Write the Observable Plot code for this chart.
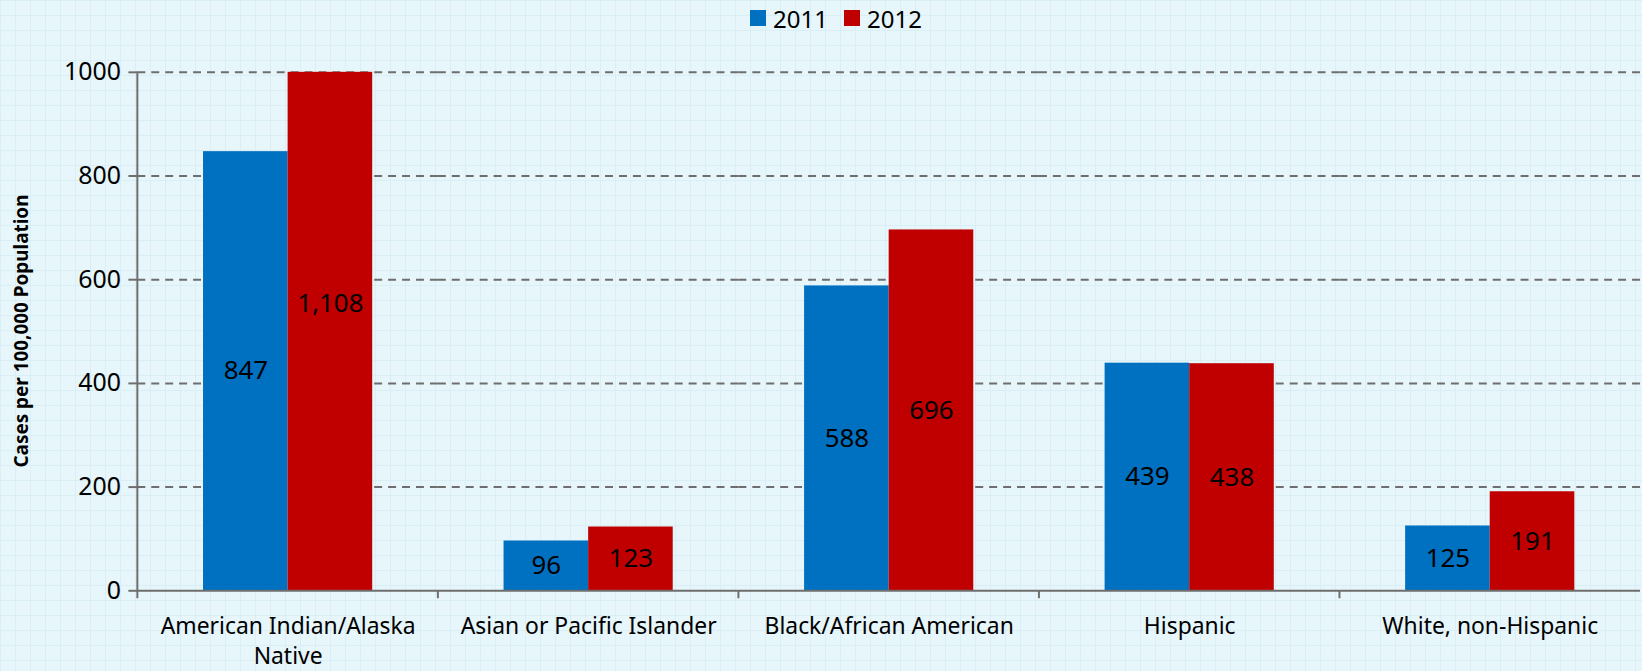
<!DOCTYPE html>
<html>
<head>
<meta charset="utf-8">
<script src="https://cdn.jsdelivr.net/npm/d3@7"></script>
<script src="https://cdn.jsdelivr.net/npm/@observablehq/plot@0.6"></script>
<style>
  html, body { margin: 0; padding: 0; overflow: hidden; width: 1642px; height: 671px; }
  body {
    background-color: #e7f6fa;
    background-image:
      linear-gradient(#d9eff5 1px, transparent 1px),
      linear-gradient(90deg, #d9eff5 1px, transparent 1px);
    background-size: 15px 15px;
    font-family: "Noto Sans", "Open Sans", sans-serif;
  }
  #legend {
    height: 36px; display: flex; justify-content: center; align-items: center;
    padding-left: 30px; box-sizing: border-box; font-size: 24px; color: #000;
  }
  #legend .item { display: flex; align-items: center; margin: 0 8px; }
  #legend .sw { width: 16px; height: 16px; margin-right: 7px; }
  #chart svg { display: block; overflow: visible; }
</style>
</head>
<body>
<div id="legend"></div>
<div id="chart"></div>
<script>
const categories = ["American Indian/Alaska Native", "Asian or Pacific Islander", "Black/African American", "Hispanic", "White, non-Hispanic"];
const categoryLabels = ["American Indian/Alaska\nNative", "Asian or Pacific Islander", "Black/African American", "Hispanic", "White, non-Hispanic"];
const years = ["2011", "2012"];
const values2011 = [847, 96, 588, 439, 125];
const values2012 = [1108, 123, 696, 438, 191];
const yTicks = [0, 200, 400, 600, 800, 1000];
const yTitle = "Cases per 100,000 Population";
const colors = ["#0070c0", "#c00000"];

const data = categories.flatMap((c, i) => [
  {cat: c, year: years[0], value: values2011[i]},
  {cat: c, year: years[1], value: values2012[i]}
]);

// legend
const legend = document.getElementById("legend");
years.forEach((y, i) => {
  const it = document.createElement("div"); it.className = "item";
  const sw = document.createElement("div"); sw.className = "sw"; sw.style.background = colors[i];
  const t = document.createElement("span"); t.textContent = y;
  it.appendChild(sw); it.appendChild(t); legend.appendChild(it);
});

const fmt = d3.format(",");
const axisColor = "#6e6e6e";

const chart = Plot.plot({
  width: 1650, height: 635,
  marginLeft: 136, marginRight: 0, marginTop: 36, marginBottom: 78,
  style: {background: "transparent", fontFamily: "Noto Sans, Open Sans, sans-serif", fontSize: "23px", color: "#000"},
  fx: {domain: categories, padding: 0, label: null, axis: null},
  x: {domain: years, paddingInner: 0, paddingOuter: 0.762, axis: null},
  y: {domain: [0, 1000], clamp: true, label: null, axis: null},
  color: {domain: years, range: colors},
  marks: [
    Plot.ruleY(yTicks.filter(t => t > 0), {stroke: axisColor, strokeOpacity: 1, strokeWidth: 2, strokeDasharray: "8,6"}),
    Plot.barY(data, {fx: "cat", x: "year", y: "value", fill: "year"}),
    Plot.text(data, {fx: "cat", x: "year", y: d => d.value / 2, text: d => fmt(d.value), fill: "#000", fontSize: 26}),
    Plot.ruleY([0], {stroke: axisColor, strokeOpacity: 1, strokeWidth: 2}),
    Plot.axisY({ticks: yTicks, tickSize: 9, tickPadding: 8, label: null, tickFormat: d3.format("d"), fontSize: 25, stroke: axisColor, strokeWidth: 2, fill: "#000"}),
    Plot.axisFx({anchor: "bottom", tickSize: 0, tickPadding: 23, label: null, lineHeight: 1.28,
      tickFormat: c => categoryLabels[categories.indexOf(c)], fontSize: 23, fill: "#000"})
  ]
});
document.getElementById("chart").appendChild(chart);

// y axis line, category divider ticks, y title using the plot's own scales
const svg = d3.select(chart);
const fx = chart.scale("fx");
const ys = chart.scale("y");
const y0 = ys.apply(0), y1 = ys.apply(1000);
const left = fx.apply(categories[0]);
const g = svg.append("g").attr("stroke", axisColor).attr("stroke-width", 2);
g.append("line").attr("x1", left).attr("x2", left).attr("y1", y1).attr("y2", y0 + 1);
categories.forEach(c => {
  const xs = fx.apply(c);
  g.append("line").attr("x1", xs).attr("x2", xs).attr("y1", y0).attr("y2", y0 + 8);
});
svg.append("text")
  .attr("transform", `translate(${left - 115},${(y0 + y1) / 2}) rotate(-90)`)
  .attr("text-anchor", "middle").attr("dominant-baseline", "middle")
  .attr("font-weight", "bold").attr("font-size", 19).attr("fill", "#000")
  .text(yTitle);
</script>
</body>
</html>
